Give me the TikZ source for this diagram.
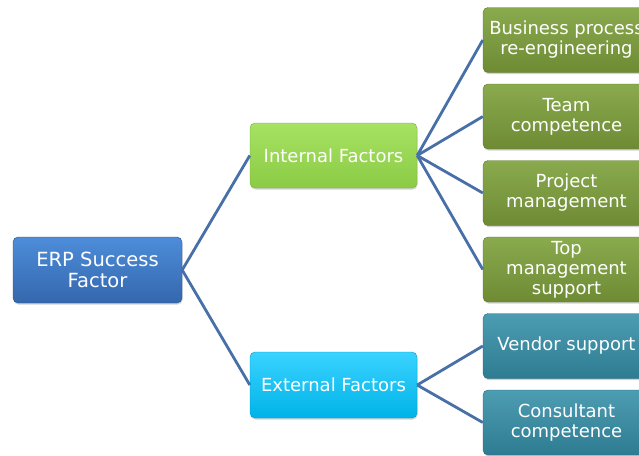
\documentclass[tikz,border=0pt]{standalone}
\usepackage{fontspec}
\setmainfont{DejaVu Sans}
\usetikzlibrary{shadows}

\definecolor{erptop}{HTML}{4D8DDA}
\definecolor{erpbot}{HTML}{3467AD}
\definecolor{inttop}{HTML}{A6E263}
\definecolor{intbot}{HTML}{8BCB45}
\definecolor{exttop}{HTML}{3AD3FF}
\definecolor{extbot}{HTML}{00B3E8}
\definecolor{olivetop}{HTML}{8AAA4E}
\definecolor{olivebot}{HTML}{6E8B34}
\definecolor{tealtop}{HTML}{4C9CB2}
\definecolor{tealbot}{HTML}{2E7C92}
\definecolor{linkblue}{HTML}{4870A8}

\begin{document}
\begin{tikzpicture}[x=1pt, y=-1pt, node distance=76.5pt,
		box/.style={rounded corners=5pt, text=white, align=center, inner sep=0pt,
			font=\fontsize{18}{20}\selectfont, minimum width=167pt, minimum height=65pt,
			drop shadow={shadow xshift=0.6pt, shadow yshift=-1.6pt, opacity=0.35}},
		rootbox/.style={box, top color=erptop, bottom color=erpbot, draw=erpbot!80!black,
			font=\fontsize{19.5}{21}\selectfont, minimum width=169pt, minimum height=66pt},
		intbox/.style={box, top color=inttop, bottom color=intbot, draw=intbot!85!black},
		extbox/.style={box, top color=exttop, bottom color=extbot, draw=extbot!85!black, minimum height=66pt},
		olivebox/.style={box, top color=olivetop, bottom color=olivebot, draw=olivebot!85!black},
		tealbox/.style={box, top color=tealtop, bottom color=tealbot, draw=tealbot!85!black}]
			\useasboundingbox (0,0) rectangle (639,455);

			\node[rootbox] (erp) at (97.5,270) {ERP Success\\Factor};
			\node[intbox] (int) at (333.5,155.5) {Internal Factors};
			\node[extbox] (ext) at (333.5,385) {External Factors};

			\node[olivebox] (bpr) at (566.5,40) {Business process\\re-engineering};
			\node[olivebox] (team)[below of = bpr] {Team\\competence};
			\node[olivebox] (proj)[below of = team] {Project\\management};
			\node[olivebox] (top)[below of = proj] {Top\\management\\support};
			\node[tealbox] (vend)[below of = top] {Vendor support};
			\node[tealbox] (cons)[below of = vend] {Consultant\\competence};

			\path[draw=linkblue, line width=2.8pt]
				(erp.east) edge (int.west)
				(erp.east) edge (ext.west)

				(int.east) edge (bpr.west)
				(int.east) edge (team.west)
				(int.east) edge (proj.west)
				(int.east) edge (top.west)

				(ext.east) edge (vend.west)
				(ext.east) edge (cons.west)
			;
		\end{tikzpicture}
\end{document}
